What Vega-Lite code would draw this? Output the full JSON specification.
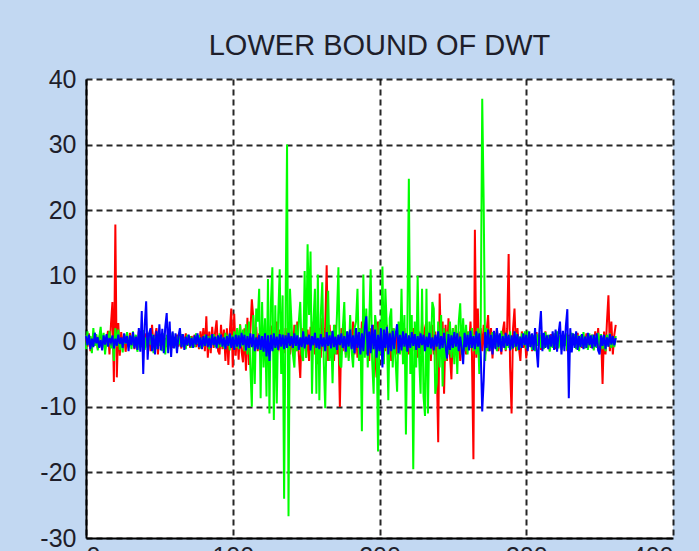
{
  "$schema": "https://vega.github.io/schema/vega-lite/v6.json",
  "width": 587,
  "height": 459,
  "autosize": {"type": "none"},
  "padding": {"left": 86, "top": 79, "right": 26, "bottom": 13},
  "background": "#C2D8F2",
  "title": {"text": "LOWER BOUND OF DWT", "fontSize": 29, "font": "Liberation Sans", "fontWeight": "normal", "color": "#1e1e2a", "anchor": "middle", "offset": 6},
  "config": {
    "view": {"stroke": null, "fill": "white"},
    "axis": {"gridColor": "black", "gridDash": [6, 4], "gridWidth": 2, "gridOpacity": 0.85, "domainColor": "black", "domainWidth": 2, "ticks": false, "labelFont": "Liberation Sans", "labelFontSize": 25, "labelColor": "#1e1e2a", "labelExpr": "'' + datum.value", "title": null}
  },
  "data": {"values": [
{"x":0,"r":0.5,"g":-1.2,"b":0.8},{"x":1,"r":-0.8,"g":1.5,"b":-0.6},{"x":2,"r":1.2,"g":-0.5,"b":1.0},{"x":3,"r":-1.5,"g":0.8,"b":-1.2},{"x":4,"r":0.3,"g":-1.8,"b":0.4},{"x":5,"r":1.0,"g":2.0,"b":-0.9},{"x":6,"r":-0.6,"g":-0.7,"b":1.3},{"x":7,"r":0.9,"g":1.1,"b":-0.3},{"x":8,"r":-1.1,"g":-1.4,"b":0.6},{"x":9,"r":0.4,"g":0.6,"b":-1.0},
{"x":10,"r":1.5,"g":2.2,"b":0.2},{"x":11,"r":-0.4,"g":-1.0,"b":-1.4},{"x":12,"r":0.7,"g":1.3,"b":0.9},{"x":13,"r":-1.3,"g":-2.0,"b":-0.5},{"x":14,"r":0.2,"g":0.9,"b":1.1},{"x":15,"r":1.6,"g":-0.6,"b":-0.8},{"x":16,"r":-2.0,"g":1.6,"b":0.5},{"x":17,"r":2.5,"g":-1.1,"b":-0.2},{"x":18,"r":6.0,"g":0.7,"b":0.9},{"x":19,"r":-6.2,"g":-3.0,"b":-1.1},
{"x":20,"r":17.8,"g":2.0,"b":0.4},{"x":21,"r":-5.5,"g":-0.8,"b":-0.7},{"x":22,"r":2.8,"g":1.8,"b":1.0},{"x":23,"r":-2.2,"g":-1.3,"b":-0.4},{"x":24,"r":1.4,"g":0.5,"b":0.6},{"x":25,"r":-0.9,"g":-1.7,"b":-1.0},{"x":26,"r":1.1,"g":1.0,"b":1.2},{"x":27,"r":-1.6,"g":-0.4,"b":-0.3},{"x":28,"r":0.6,"g":1.4,"b":0.8},{"x":29,"r":-0.5,"g":-0.9,"b":-1.5},
{"x":30,"r":1.3,"g":0.7,"b":0.9},{"x":31,"r":-0.7,"g":-1.2,"b":-0.6},{"x":32,"r":0.9,"g":1.5,"b":1.4},{"x":33,"r":-1.2,"g":-0.6,"b":-1.1},{"x":34,"r":0.5,"g":1.0,"b":0.7},{"x":35,"r":-1.0,"g":-1.6,"b":-1.3},{"x":36,"r":1.5,"g":0.4,"b":2.0},{"x":37,"r":-0.6,"g":1.2,"b":-1.6},{"x":38,"r":0.8,"g":-0.9,"b":4.6},{"x":39,"r":-1.4,"g":1.7,"b":-5.0},
{"x":40,"r":0.4,"g":-1.3,"b":2.5},{"x":41,"r":1.2,"g":0.6,"b":6.1},{"x":42,"r":-0.8,"g":-1.0,"b":-2.8},{"x":43,"r":0.6,"g":1.3,"b":1.2},{"x":44,"r":-1.5,"g":-0.5,"b":2.0},{"x":45,"r":2.5,"g":1.1,"b":-1.5},{"x":46,"r":-1.0,"g":-1.8,"b":1.0},{"x":47,"r":0.7,"g":0.8,"b":-2.0},{"x":48,"r":2.0,"g":-1.2,"b":1.6},{"x":49,"r":-2.0,"g":1.4,"b":-1.2},
{"x":50,"r":1.0,"g":-0.7,"b":2.6},{"x":51,"r":-0.6,"g":0.9,"b":-1.4},{"x":52,"r":0.9,"g":-1.5,"b":1.9},{"x":53,"r":-1.3,"g":1.2,"b":-1.8},{"x":54,"r":0.5,"g":-2.0,"b":2.2},{"x":55,"r":-0.9,"g":1.0,"b":4.3},{"x":56,"r":1.1,"g":-1.1,"b":-1.8},{"x":57,"r":-0.4,"g":0.6,"b":3.0},{"x":58,"r":0.7,"g":-0.9,"b":-2.4},{"x":59,"r":-1.0,"g":1.3,"b":1.5},
{"x":60,"r":0.6,"g":-1.0,"b":-1.1},{"x":61,"r":-0.5,"g":0.7,"b":1.2},{"x":62,"r":1.0,"g":-1.3,"b":-1.8},{"x":63,"r":-0.8,"g":0.9,"b":0.8},{"x":64,"r":0.4,"g":-0.5,"b":2.0},{"x":65,"r":-1.1,"g":1.1,"b":-0.9},{"x":66,"r":0.9,"g":-0.8,"b":1.1},{"x":67,"r":-0.5,"g":0.5,"b":-1.3},{"x":68,"r":1.2,"g":-1.2,"b":0.7},{"x":69,"r":-0.7,"g":1.0,"b":-0.6},
{"x":70,"r":0.5,"g":-0.6,"b":1.0},{"x":71,"r":-1.0,"g":0.8,"b":-0.8},{"x":72,"r":0.8,"g":-1.0,"b":0.5},{"x":73,"r":-0.3,"g":0.6,"b":-1.0},{"x":74,"r":1.0,"g":-0.9,"b":0.9},{"x":75,"r":-0.9,"g":1.2,"b":-0.5},{"x":76,"r":0.6,"g":-0.4,"b":1.2},{"x":77,"r":-1.2,"g":0.9,"b":-0.9},{"x":78,"r":1.5,"g":-1.1,"b":0.6},{"x":79,"r":-0.6,"g":0.5,"b":-1.2},
{"x":80,"r":2.0,"g":-0.8,"b":0.8},{"x":81,"r":-1.5,"g":1.0,"b":-0.7},{"x":82,"r":3.8,"g":-0.6,"b":1.0},{"x":83,"r":-2.5,"g":0.8,"b":-0.9},{"x":84,"r":1.5,"g":-1.2,"b":0.5},{"x":85,"r":-1.8,"g":0.9,"b":-1.0},{"x":86,"r":2.2,"g":-0.5,"b":1.1},{"x":87,"r":-1.0,"g":1.1,"b":-0.6},{"x":88,"r":1.4,"g":-0.9,"b":0.7},{"x":89,"r":3.2,"g":0.7,"b":-1.1},
{"x":90,"r":-1.5,"g":-1.0,"b":0.9},{"x":91,"r":-2.0,"g":1.2,"b":-0.5},{"x":92,"r":2.5,"g":-0.8,"b":1.0},{"x":93,"r":-1.2,"g":0.6,"b":-0.8},{"x":94,"r":1.8,"g":-1.1,"b":0.6},{"x":95,"r":-3.0,"g":1.3,"b":-1.2},{"x":96,"r":2.0,"g":-0.7,"b":0.8},{"x":97,"r":-3.6,"g":1.0,"b":-0.7},{"x":98,"r":1.5,"g":-1.4,"b":1.2},{"x":99,"r":5.0,"g":0.9,"b":-1.0},
{"x":100,"r":-4.0,"g":-0.6,"b":0.7},{"x":101,"r":4.2,"g":1.5,"b":-1.3},{"x":102,"r":-2.2,"g":-1.0,"b":1.0},{"x":103,"r":1.8,"g":2.0,"b":-0.8},{"x":104,"r":-2.8,"g":-1.2,"b":0.9},{"x":105,"r":2.6,"g":2.5,"b":-1.1},{"x":106,"r":-1.5,"g":-0.8,"b":1.3},{"x":107,"r":-3.2,"g":1.8,"b":-0.6},{"x":108,"r":2.0,"g":-1.5,"b":1.0},{"x":109,"r":-4.5,"g":2.6,"b":-1.4},
{"x":110,"r":3.6,"g":-2.0,"b":0.8},{"x":111,"r":-3.6,"g":3.0,"b":-1.0},{"x":112,"r":1.5,"g":-4.0,"b":1.2},{"x":113,"r":6.4,"g":-10.0,"b":-0.9},{"x":114,"r":3.5,"g":4.0,"b":1.1},{"x":115,"r":-1.8,"g":-6.5,"b":-1.5},{"x":116,"r":2.2,"g":5.0,"b":0.6},{"x":117,"r":-1.5,"g":3.0,"b":-1.2},{"x":118,"r":1.2,"g":8.0,"b":1.0},{"x":119,"r":-2.0,"g":-8.7,"b":-1.3},
{"x":120,"r":2.5,"g":6.0,"b":0.8},{"x":121,"r":-1.2,"g":-4.0,"b":-1.6},{"x":122,"r":1.8,"g":3.5,"b":1.2},{"x":123,"r":-2.8,"g":-8.4,"b":-2.3},{"x":124,"r":1.0,"g":9.5,"b":0.9},{"x":125,"r":-1.6,"g":-11.0,"b":-3.0},{"x":126,"r":2.4,"g":6.0,"b":1.0},{"x":127,"r":-1.0,"g":11.3,"b":-1.5},{"x":128,"r":1.4,"g":-12.0,"b":1.2},{"x":129,"r":-2.2,"g":5.5,"b":-1.0},
{"x":130,"r":3.0,"g":-9.5,"b":0.7},{"x":131,"r":-1.5,"g":4.0,"b":-1.3},{"x":132,"r":1.8,"g":11.0,"b":1.1},{"x":133,"r":-2.6,"g":-5.0,"b":-0.8},{"x":134,"r":1.1,"g":7.0,"b":1.0},{"x":135,"r":-1.8,"g":-24.0,"b":-1.2},{"x":136,"r":2.0,"g":5.0,"b":0.9},{"x":137,"r":-1.0,"g":30.0,"b":-1.0},{"x":138,"r":2.6,"g":-26.7,"b":1.3},{"x":139,"r":-2.0,"g":8.0,"b":-0.7},
{"x":140,"r":1.5,"g":3.0,"b":0.8},{"x":141,"r":-2.0,"g":-2.0,"b":-1.0},{"x":142,"r":2.5,"g":-4.0,"b":1.2},{"x":143,"r":-1.5,"g":2.5,"b":-0.7},{"x":144,"r":3.0,"g":-1.5,"b":0.9},{"x":145,"r":-2.0,"g":3.0,"b":-1.3},{"x":146,"r":-5.6,"g":6.0,"b":0.6},{"x":147,"r":2.0,"g":-2.0,"b":-0.9},{"x":148,"r":-1.5,"g":-3.0,"b":1.5},{"x":149,"r":3.0,"g":10.7,"b":-1.1},
{"x":150,"r":-2.5,"g":-2.5,"b":0.7},{"x":151,"r":1.8,"g":14.8,"b":-0.5},{"x":152,"r":-3.0,"g":4.0,"b":1.0},{"x":153,"r":2.2,"g":13.7,"b":-1.4},{"x":154,"r":-1.5,"g":-8.0,"b":0.8},{"x":155,"r":3.0,"g":3.0,"b":-0.6},{"x":156,"r":-2.0,"g":8.0,"b":1.3},{"x":157,"r":1.5,"g":-8.0,"b":-1.0},{"x":158,"r":-3.5,"g":10.2,"b":0.5},{"x":159,"r":2.0,"g":-9.0,"b":-1.2},
{"x":160,"r":-2.5,"g":4.0,"b":1.1},{"x":161,"r":3.5,"g":9.0,"b":-0.8},{"x":162,"r":-1.5,"g":-3.0,"b":0.6},{"x":163,"r":2.0,"g":-10.2,"b":-1.5},{"x":164,"r":11.6,"g":2.0,"b":1.4},{"x":165,"r":-3.0,"g":7.7,"b":-0.7},{"x":166,"r":2.5,"g":-3.0,"b":0.9},{"x":167,"r":-2.0,"g":1.5,"b":-1.1},{"x":168,"r":1.5,"g":-6.4,"b":1.6},{"x":169,"r":-3.0,"g":2.5,"b":-0.9},
{"x":170,"r":2.5,"g":-2.0,"b":0.7},{"x":171,"r":-2.0,"g":4.0,"b":-1.3},{"x":172,"r":1.0,"g":11.3,"b":1.0},{"x":173,"r":-10.0,"g":-3.5,"b":-0.6},{"x":174,"r":2.0,"g":-4.0,"b":1.2},{"x":175,"r":-1.5,"g":2.0,"b":-1.0},{"x":176,"r":3.0,"g":6.0,"b":0.8},{"x":177,"r":-2.0,"g":-2.5,"b":-1.6},{"x":178,"r":1.5,"g":1.5,"b":1.5},{"x":179,"r":-2.5,"g":-3.0,"b":-0.8},
{"x":180,"r":2.0,"g":4.0,"b":1.8},{"x":181,"r":-1.0,"g":-1.5,"b":-1.2},{"x":182,"r":3.0,"g":-4.0,"b":0.9},{"x":183,"r":-2.0,"g":2.0,"b":-1.8},{"x":184,"r":1.5,"g":3.0,"b":2.0},{"x":185,"r":-2.5,"g":8.0,"b":-1.0},{"x":186,"r":2.0,"g":-3.0,"b":1.4},{"x":187,"r":-1.5,"g":2.0,"b":-2.0},{"x":188,"r":3.0,"g":-13.7,"b":1.2},{"x":189,"r":-1.0,"g":10.2,"b":-1.5},
{"x":190,"r":2.5,"g":-2.5,"b":2.2},{"x":191,"r":-2.0,"g":5.0,"b":3.8},{"x":192,"r":1.0,"g":-4.0,"b":-2.2},{"x":193,"r":-3.0,"g":3.0,"b":1.5},{"x":194,"r":2.0,"g":11.0,"b":-1.8},{"x":195,"r":-1.5,"g":-3.0,"b":2.5},{"x":196,"r":2.5,"g":-8.0,"b":-1.2},{"x":197,"r":-2.0,"g":4.0,"b":1.8},{"x":198,"r":-5.5,"g":2.0,"b":-2.5},{"x":199,"r":3.0,"g":-16.8,"b":1.0},
{"x":200,"r":-1.5,"g":3.0,"b":-1.5},{"x":201,"r":2.0,"g":-2.0,"b":2.0},{"x":202,"r":-2.5,"g":11.4,"b":-4.0},{"x":203,"r":1.0,"g":-3.5,"b":1.8},{"x":204,"r":-1.5,"g":8.0,"b":-1.0},{"x":205,"r":2.5,"g":2.0,"b":2.2},{"x":206,"r":-2.0,"g":-9.0,"b":-2.0},{"x":207,"r":1.5,"g":3.5,"b":1.2},{"x":208,"r":-3.0,"g":5.0,"b":-1.5},{"x":209,"r":2.0,"g":-4.0,"b":1.6},
{"x":210,"r":-1.0,"g":2.0,"b":-1.2},{"x":211,"r":1.5,"g":-3.0,"b":1.0},{"x":212,"r":-2.0,"g":-7.7,"b":2.6},{"x":213,"r":2.5,"g":3.0,"b":-1.8},{"x":214,"r":-1.5,"g":-2.0,"b":1.0},{"x":215,"r":1.0,"g":8.0,"b":-1.4},{"x":216,"r":-2.3,"g":-3.5,"b":1.5},{"x":217,"r":2.0,"g":4.0,"b":-0.8},{"x":218,"r":-1.5,"g":-14.2,"b":1.2},{"x":219,"r":1.0,"g":3.0,"b":-1.6},
{"x":220,"r":-2.0,"g":24.8,"b":0.9},{"x":221,"r":1.5,"g":-5.0,"b":-1.0},{"x":222,"r":-1.0,"g":4.0,"b":1.4},{"x":223,"r":2.0,"g":-19.5,"b":-0.7},{"x":224,"r":-1.5,"g":3.0,"b":1.1},{"x":225,"r":2.0,"g":-4.0,"b":-1.3},{"x":226,"r":-2.5,"g":10.0,"b":0.8},{"x":227,"r":1.5,"g":-2.5,"b":-1.0},{"x":228,"r":-2.0,"g":-8.0,"b":1.2},{"x":229,"r":3.0,"g":8.0,"b":-0.6},
{"x":230,"r":-1.5,"g":-8.4,"b":1.0},{"x":231,"r":2.0,"g":-11.4,"b":-1.5},{"x":232,"r":3.0,"g":8.0,"b":0.7},{"x":233,"r":-2.0,"g":-11.0,"b":-0.9},{"x":234,"r":1.5,"g":3.0,"b":1.3},{"x":235,"r":-3.0,"g":-2.0,"b":-1.1},{"x":236,"r":2.5,"g":6.0,"b":0.6},{"x":237,"r":-2.0,"g":5.0,"b":-1.4},{"x":238,"r":1.5,"g":-8.0,"b":1.0},{"x":239,"r":-3.5,"g":-6.4,"b":-0.8},
{"x":240,"r":-15.4,"g":3.0,"b":1.5},{"x":241,"r":7.3,"g":-4.0,"b":-1.2},{"x":242,"r":-2.0,"g":4.0,"b":0.8},{"x":243,"r":3.0,"g":-6.9,"b":-1.0},{"x":244,"r":-8.0,"g":2.0,"b":1.3},{"x":245,"r":2.5,"g":-3.0,"b":-0.7},{"x":246,"r":-3.0,"g":1.5,"b":-2.6},{"x":247,"r":3.5,"g":-2.0,"b":1.1},{"x":248,"r":-2.0,"g":3.0,"b":-1.3},{"x":249,"r":-5.8,"g":-2.5,"b":0.9},
{"x":250,"r":2.0,"g":2.0,"b":-1.0},{"x":251,"r":-1.5,"g":-3.5,"b":1.4},{"x":252,"r":2.4,"g":2.5,"b":-0.8},{"x":253,"r":-2.0,"g":-5.0,"b":1.2},{"x":254,"r":1.5,"g":3.0,"b":-1.5},{"x":255,"r":-3.0,"g":5.8,"b":0.7},{"x":256,"r":2.0,"g":-2.0,"b":-1.1},{"x":257,"r":-1.5,"g":3.5,"b":-3.5},{"x":258,"r":1.0,"g":-1.5,"b":1.3},{"x":259,"r":-2.0,"g":2.5,"b":-0.9},
{"x":260,"r":1.5,"g":-2.0,"b":1.0},{"x":261,"r":-1.0,"g":1.5,"b":-1.4},{"x":262,"r":3.0,"g":-1.0,"b":1.6},{"x":263,"r":-2.0,"g":2.0,"b":-1.0},{"x":264,"r":-18.0,"g":-1.5,"b":0.8},{"x":265,"r":17.0,"g":1.0,"b":-1.2},{"x":266,"r":-2.5,"g":-2.0,"b":1.5},{"x":267,"r":5.0,"g":2.0,"b":-0.8},{"x":268,"r":-3.5,"g":-5.0,"b":1.2},{"x":269,"r":2.0,"g":3.0,"b":-1.8},
{"x":270,"r":-1.5,"g":37.0,"b":-10.7},{"x":271,"r":2.5,"g":21.0,"b":-6.0},{"x":272,"r":-2.0,"g":-3.0,"b":1.4},{"x":273,"r":1.5,"g":2.0,"b":-1.0},{"x":274,"r":4.0,"g":-1.5,"b":1.8},{"x":275,"r":-1.5,"g":1.0,"b":-1.5},{"x":276,"r":2.0,"g":-1.0,"b":1.0},{"x":277,"r":-2.6,"g":1.4,"b":-2.0},{"x":278,"r":1.5,"g":-0.8,"b":1.6},{"x":279,"r":-1.0,"g":1.2,"b":-1.2},
{"x":280,"r":2.0,"g":-1.5,"b":2.0},{"x":281,"r":-1.5,"g":0.9,"b":-0.9},{"x":282,"r":1.0,"g":-1.1,"b":1.2},{"x":283,"r":-2.0,"g":1.6,"b":-1.6},{"x":284,"r":1.5,"g":-0.7,"b":0.8},{"x":285,"r":3.0,"g":1.0,"b":-1.0},{"x":286,"r":-1.5,"g":-1.3,"b":1.3},{"x":287,"r":2.0,"g":0.8,"b":-0.7},{"x":288,"r":13.3,"g":-1.0,"b":1.0},{"x":289,"r":-4.0,"g":1.5,"b":-1.4},
{"x":290,"r":-11.0,"g":-1.2,"b":0.9},{"x":291,"r":2.0,"g":0.6,"b":-1.1},{"x":292,"r":5.0,"g":-0.9,"b":1.5},{"x":293,"r":-1.5,"g":1.3,"b":-0.8},{"x":294,"r":2.0,"g":-1.4,"b":1.1},{"x":295,"r":-1.0,"g":0.7,"b":-1.3},{"x":296,"r":-3.0,"g":-1.0,"b":0.7},{"x":297,"r":1.5,"g":1.2,"b":-1.0},{"x":298,"r":-1.0,"g":-0.6,"b":1.2},{"x":299,"r":1.0,"g":1.5,"b":-0.6},
{"x":300,"r":-2.6,"g":-1.1,"b":1.0},{"x":301,"r":1.2,"g":1.6,"b":-1.5},{"x":302,"r":-0.8,"g":-0.8,"b":1.5},{"x":303,"r":1.0,"g":1.0,"b":-0.9},{"x":304,"r":-1.5,"g":-1.3,"b":1.2},{"x":305,"r":0.8,"g":0.9,"b":-1.4},{"x":306,"r":-1.2,"g":-1.5,"b":2.0},{"x":307,"r":1.4,"g":1.1,"b":-1.2},{"x":308,"r":-0.6,"g":-0.7,"b":-4.0},{"x":309,"r":1.0,"g":1.3,"b":1.8},
{"x":310,"r":-1.3,"g":-1.0,"b":4.6},{"x":311,"r":0.7,"g":0.8,"b":-1.5},{"x":312,"r":-1.0,"g":-1.2,"b":1.3},{"x":313,"r":1.5,"g":1.4,"b":-1.0},{"x":314,"r":-0.5,"g":-0.9,"b":0.9},{"x":315,"r":0.9,"g":1.0,"b":-1.2},{"x":316,"r":-1.4,"g":-1.6,"b":1.0},{"x":317,"r":1.1,"g":0.7,"b":-0.8},{"x":318,"r":-0.7,"g":-1.0,"b":1.5},{"x":319,"r":0.6,"g":1.2,"b":-1.3},
{"x":320,"r":-1.2,"g":-0.8,"b":1.8},{"x":321,"r":1.3,"g":1.5,"b":-1.6},{"x":322,"r":-0.8,"g":-1.1,"b":1.2},{"x":323,"r":0.5,"g":0.9,"b":3.0},{"x":324,"r":-1.0,"g":-1.3,"b":-2.0},{"x":325,"r":1.2,"g":1.0,"b":1.6},{"x":326,"r":-0.6,"g":-0.7,"b":-1.5},{"x":327,"r":0.8,"g":1.2,"b":2.4},{"x":328,"r":-1.5,"g":-1.4,"b":4.9},{"x":329,"r":1.0,"g":0.8,"b":-8.7},
{"x":330,"r":-0.9,"g":-1.0,"b":2.0},{"x":331,"r":1.1,"g":1.3,"b":-1.7},{"x":332,"r":-0.5,"g":-0.6,"b":1.2},{"x":333,"r":0.7,"g":1.1,"b":-1.0},{"x":334,"r":-1.1,"g":-1.2,"b":1.5},{"x":335,"r":1.3,"g":0.9,"b":-1.3},{"x":336,"r":-0.7,"g":-1.5,"b":0.8},{"x":337,"r":0.5,"g":1.0,"b":-0.9},{"x":338,"r":-1.0,"g":-0.8,"b":1.1},{"x":339,"r":0.9,"g":1.4,"b":-1.2},
{"x":340,"r":-0.6,"g":-1.1,"b":0.7},{"x":341,"r":1.2,"g":0.7,"b":-1.0},{"x":342,"r":-0.8,"g":-1.3,"b":1.3},{"x":343,"r":0.6,"g":1.2,"b":-0.6},{"x":344,"r":-1.0,"g":-0.9,"b":0.9},{"x":345,"r":1.0,"g":1.0,"b":-1.1},{"x":346,"r":-1.2,"g":-1.4,"b":1.0},{"x":347,"r":1.5,"g":0.8,"b":-0.8},{"x":348,"r":-0.9,"g":-1.0,"b":1.2},{"x":349,"r":2.0,"g":1.3,"b":-1.4},
{"x":350,"r":-1.5,"g":-0.7,"b":-2.0},{"x":351,"r":1.0,"g":1.1,"b":0.9},{"x":352,"r":-6.5,"g":-1.2,"b":-0.7},{"x":353,"r":1.5,"g":0.9,"b":1.0},{"x":354,"r":-2.0,"g":-1.5,"b":-1.2},{"x":355,"r":3.0,"g":1.0,"b":0.6},{"x":356,"r":7.0,"g":-0.8,"b":-0.8},{"x":357,"r":-1.5,"g":1.2,"b":1.1},{"x":358,"r":3.0,"g":-1.0,"b":-0.5},{"x":359,"r":-2.0,"g":0.6,"b":0.8},
{"x":360,"r":1.0,"g":-0.9,"b":-0.6},{"x":361,"r":2.5,"g":0.8,"b":0.5}
  ]},
  "encoding": {
    "x": {"field": "x", "type": "quantitative", "scale": {"domain": [0, 400], "nice": false}, "axis": {"values": [0, 100, 200, 300, 400], "labelPadding": 6, "labelBaseline": "top"}}
  },
  "layer": [
    {"mark": {"type": "line", "color": "#FF0000", "strokeWidth": 2}, "encoding": {"y": {"field": "r", "type": "quantitative", "scale": {"domain": [-30, 40], "nice": false}, "axis": {"values": [-30, -20, -10, 0, 10, 20, 30, 40], "labelPadding": 10}}}},
    {"mark": {"type": "line", "color": "#00FF00", "strokeWidth": 2}, "encoding": {"y": {"field": "g", "type": "quantitative"}}},
    {"mark": {"type": "line", "color": "#0000FF", "strokeWidth": 2}, "encoding": {"y": {"field": "b", "type": "quantitative"}}}
  ]
}
